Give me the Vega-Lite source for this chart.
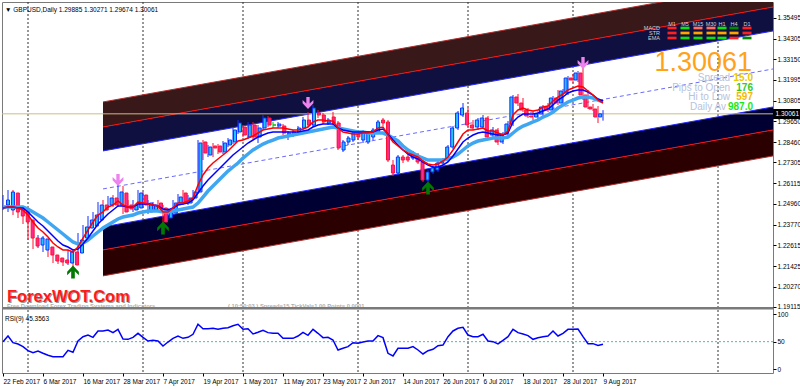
{
"$schema": "https://vega.github.io/schema/vega-lite/v6.json",
"background": "white",
"autosize": {"type": "none"},
"padding": {"left": 2, "top": 2, "right": 27, "bottom": 16},
"width": 771,
"height": 371,
"config": {"view": {"stroke": "#7a7a7a", "strokeWidth": 1}, "font": "Liberation Sans",
 "axis": {"labelFont": "Liberation Sans", "labelFontSize": 6.5, "labelColor": "#000000", "tickColor": "#000000", "tickSize": 3, "domain": false, "grid": false, "labelPadding": 1}},
"resolve": {"scale": {"x": "independent", "y": "independent", "color": "independent"}},
"datasets": {
"c": [
{"i":0,"o":1.24891,"h":1.25458,"l":1.24608,"c":1.25175,"r":1.24721,"b":1.24721,"s":1.24778,"rsi":50},
{"i":1,"o":1.24608,"h":1.25742,"l":1.24495,"c":1.25629,"r":1.24778,"b":1.24778,"s":1.24778,"rsi":60.2},
{"i":2,"o":1.25572,"h":1.25742,"l":1.24324,"c":1.24495,"r":1.24778,"b":1.24778,"s":1.24778,"rsi":48.1},
{"i":3,"o":1.24778,"h":1.24948,"l":1.24154,"c":1.24268,"r":1.24721,"b":1.24721,"s":1.24778,"rsi":45.8},
{"i":4,"o":1.24608,"h":1.24778,"l":1.23814,"c":1.23928,"r":1.24608,"b":1.24721,"s":1.24778,"rsi":41},
{"i":5,"o":1.24041,"h":1.24154,"l":1.22907,"c":1.2302,"r":1.24324,"b":1.24495,"s":1.24665,"rsi":33.7},
{"i":6,"o":1.2302,"h":1.23134,"l":1.22397,"c":1.22567,"r":1.23928,"b":1.24211,"s":1.24495,"rsi":30},
{"i":7,"o":1.22623,"h":1.2319,"l":1.22453,"c":1.2302,"r":1.23587,"b":1.23928,"s":1.24324,"rsi":33},
{"i":8,"o":1.2234,"h":1.23134,"l":1.22227,"c":1.22964,"r":1.23361,"b":1.23701,"s":1.24154,"rsi":29},
{"i":9,"o":1.2251,"h":1.22623,"l":1.21943,"c":1.22056,"r":1.23077,"b":1.23417,"s":1.23928,"rsi":25.3},
{"i":10,"o":1.22056,"h":1.22227,"l":1.21603,"c":1.21716,"r":1.22737,"b":1.23134,"s":1.23701,"rsi":22.8},
{"i":11,"o":1.21886,"h":1.22,"l":1.21546,"c":1.2166,"r":1.2251,"b":1.2285,"s":1.23474,"rsi":22.8},
{"i":12,"o":1.21773,"h":1.21886,"l":1.21433,"c":1.21603,"r":1.2234,"b":1.22623,"s":1.23247,"rsi":22.8},
{"i":13,"o":1.21603,"h":1.2234,"l":1.21489,"c":1.22227,"r":1.2234,"b":1.2251,"s":1.2302,"rsi":34.3},
{"i":14,"o":1.22227,"h":1.2234,"l":1.21319,"c":1.21489,"r":1.22227,"b":1.2234,"s":1.22794,"rsi":30.7},
{"i":15,"o":1.2217,"h":1.23304,"l":1.22056,"c":1.22907,"r":1.2251,"b":1.22397,"s":1.2268,"rsi":51.2},
{"i":16,"o":1.2302,"h":1.23757,"l":1.2285,"c":1.23644,"r":1.2302,"b":1.2268,"s":1.22737,"rsi":59},
{"i":17,"o":1.23587,"h":1.24268,"l":1.23361,"c":1.24041,"r":1.23474,"b":1.2302,"s":1.22907,"rsi":62},
{"i":18,"o":1.23701,"h":1.24495,"l":1.23587,"c":1.24324,"r":1.23928,"b":1.23417,"s":1.23134,"rsi":57.8},
{"i":19,"o":1.24041,"h":1.25062,"l":1.23928,"c":1.24891,"r":1.24324,"b":1.23814,"s":1.23361,"rsi":69.3},
{"i":20,"o":1.24891,"h":1.25175,"l":1.24381,"c":1.24608,"r":1.24495,"b":1.24098,"s":1.23587,"rsi":69.3},
{"i":21,"o":1.24891,"h":1.25402,"l":1.24721,"c":1.25288,"r":1.24778,"b":1.24381,"s":1.23757,"rsi":71.1},
{"i":22,"o":1.25288,"h":1.25458,"l":1.24778,"c":1.24891,"r":1.24891,"b":1.24608,"s":1.23928,"rsi":66.3},
{"i":23,"o":1.24891,"h":1.26025,"l":1.24778,"c":1.25629,"r":1.25118,"b":1.24835,"s":1.24098,"rsi":72.3},
{"i":24,"o":1.25572,"h":1.25969,"l":1.24381,"c":1.24495,"r":1.24891,"b":1.24835,"s":1.24211,"rsi":54.8},
{"i":25,"o":1.24891,"h":1.25175,"l":1.24495,"c":1.24665,"r":1.24778,"b":1.24778,"s":1.24268,"rsi":54.2},
{"i":26,"o":1.24608,"h":1.25175,"l":1.24495,"c":1.24891,"r":1.24778,"b":1.24778,"s":1.24324,"rsi":57.8},
{"i":27,"o":1.24721,"h":1.25742,"l":1.24608,"c":1.25572,"r":1.25062,"b":1.24948,"s":1.24438,"rsi":65.1},
{"i":28,"o":1.25458,"h":1.25629,"l":1.24721,"c":1.24891,"r":1.25005,"b":1.24948,"s":1.24495,"rsi":57.8},
{"i":29,"o":1.24495,"h":1.25175,"l":1.24381,"c":1.25005,"r":1.24948,"b":1.24948,"s":1.24551,"rsi":51.2},
{"i":30,"o":1.24608,"h":1.25062,"l":1.24495,"c":1.24891,"r":1.24891,"b":1.24891,"s":1.24551,"rsi":52.4},
{"i":31,"o":1.25005,"h":1.25175,"l":1.24551,"c":1.24665,"r":1.24835,"b":1.24835,"s":1.24551,"rsi":51.2},
{"i":32,"o":1.24721,"h":1.24891,"l":1.23757,"c":1.23928,"r":1.24495,"b":1.24665,"s":1.24495,"rsi":42.1},
{"i":33,"o":1.24154,"h":1.24721,"l":1.24041,"c":1.24495,"r":1.24495,"b":1.24608,"s":1.24495,"rsi":49.3},
{"i":34,"o":1.24438,"h":1.25175,"l":1.24324,"c":1.25005,"r":1.24721,"b":1.24721,"s":1.24551,"rsi":56},
{"i":35,"o":1.25005,"h":1.25515,"l":1.24891,"c":1.25345,"r":1.25005,"b":1.24891,"s":1.24608,"rsi":60.2},
{"i":36,"o":1.25572,"h":1.25742,"l":1.24891,"c":1.25005,"r":1.25005,"b":1.24948,"s":1.24665,"rsi":56},
{"i":37,"o":1.25005,"h":1.25458,"l":1.24891,"c":1.25288,"r":1.25118,"b":1.25005,"s":1.24721,"rsi":57.8},
{"i":38,"o":1.25288,"h":1.25742,"l":1.25175,"c":1.25629,"r":1.25288,"b":1.25175,"s":1.24778,"rsi":63.3},
{"i":39,"o":1.25629,"h":1.28577,"l":1.25515,"c":1.28407,"r":1.26025,"b":1.25572,"s":1.25005,"rsi":81.4},
{"i":40,"o":1.28464,"h":1.28577,"l":1.27443,"c":1.2784,"r":1.26592,"b":1.25969,"s":1.25345,"rsi":73.4},
{"i":41,"o":1.27726,"h":1.28293,"l":1.27613,"c":1.2818,"r":1.26989,"b":1.26309,"s":1.25685,"rsi":73.4},
{"i":42,"o":1.28237,"h":1.28407,"l":1.27613,"c":1.28123,"r":1.27273,"b":1.26592,"s":1.25969,"rsi":74.1},
{"i":43,"o":1.28237,"h":1.2835,"l":1.27783,"c":1.27897,"r":1.275,"b":1.26876,"s":1.26252,"rsi":72.3},
{"i":44,"o":1.27897,"h":1.2852,"l":1.27783,"c":1.28407,"r":1.27726,"b":1.27159,"s":1.26536,"rsi":74.1},
{"i":45,"o":1.28293,"h":1.2869,"l":1.2818,"c":1.28577,"r":1.27953,"b":1.27443,"s":1.26819,"rsi":75.3},
{"i":46,"o":1.28464,"h":1.29257,"l":1.2835,"c":1.29144,"r":1.28237,"b":1.27726,"s":1.27046,"rsi":78.8},
{"i":47,"o":1.29031,"h":1.29711,"l":1.28917,"c":1.29541,"r":1.2852,"b":1.27953,"s":1.27273,"rsi":81.4},
{"i":48,"o":1.29314,"h":1.29427,"l":1.28747,"c":1.2886,"r":1.28577,"b":1.2818,"s":1.27556,"rsi":72.3},
{"i":49,"o":1.28747,"h":1.29598,"l":1.28634,"c":1.29427,"r":1.2869,"b":1.28407,"s":1.27783,"rsi":73.4},
{"i":50,"o":1.29427,"h":1.29598,"l":1.28634,"c":1.28747,"r":1.28804,"b":1.28577,"s":1.2801,"rsi":63.9},
{"i":51,"o":1.28747,"h":1.29427,"l":1.28407,"c":1.29257,"r":1.28974,"b":1.28747,"s":1.2818,"rsi":66.9},
{"i":52,"o":1.29257,"h":1.29994,"l":1.29144,"c":1.29824,"r":1.29144,"b":1.2886,"s":1.2835,"rsi":70.5},
{"i":53,"o":1.29824,"h":1.29938,"l":1.29314,"c":1.29427,"r":1.29201,"b":1.28974,"s":1.28464,"rsi":66.3},
{"i":54,"o":1.29427,"h":1.29598,"l":1.29257,"c":1.29427,"r":1.29257,"b":1.29031,"s":1.28577,"rsi":65.1},
{"i":55,"o":1.29371,"h":1.29598,"l":1.29257,"c":1.29484,"r":1.29257,"b":1.29031,"s":1.2869,"rsi":65.1},
{"i":56,"o":1.29371,"h":1.29484,"l":1.2886,"c":1.28974,"r":1.29257,"b":1.29031,"s":1.28747,"rsi":56},
{"i":57,"o":1.2886,"h":1.29087,"l":1.28577,"c":1.28974,"r":1.29201,"b":1.29031,"s":1.28804,"rsi":56},
{"i":58,"o":1.2886,"h":1.29144,"l":1.28747,"c":1.29031,"r":1.29144,"b":1.29031,"s":1.2886,"rsi":56},
{"i":59,"o":1.28974,"h":1.29371,"l":1.2886,"c":1.29257,"r":1.29144,"b":1.29031,"s":1.28917,"rsi":60.2},
{"i":60,"o":1.29257,"h":1.29881,"l":1.29144,"c":1.29711,"r":1.29201,"b":1.29087,"s":1.28974,"rsi":66.9},
{"i":61,"o":1.29711,"h":1.30165,"l":1.29314,"c":1.29427,"r":1.29314,"b":1.29144,"s":1.29031,"rsi":61.5},
{"i":62,"o":1.29427,"h":1.30561,"l":1.29314,"c":1.30391,"r":1.29598,"b":1.29314,"s":1.29087,"rsi":72.3},
{"i":63,"o":1.30108,"h":1.30278,"l":1.29824,"c":1.29994,"r":1.29711,"b":1.29427,"s":1.29144,"rsi":65.1},
{"i":64,"o":1.29994,"h":1.30108,"l":1.29484,"c":1.29598,"r":1.29711,"b":1.29484,"s":1.29201,"rsi":57.2},
{"i":65,"o":1.29541,"h":1.29824,"l":1.29427,"c":1.29711,"r":1.29654,"b":1.29484,"s":1.29257,"rsi":57.8},
{"i":66,"o":1.29881,"h":1.30165,"l":1.29427,"c":1.29541,"r":1.29654,"b":1.29484,"s":1.29314,"rsi":53},
{"i":67,"o":1.29541,"h":1.29654,"l":1.2801,"c":1.28123,"r":1.29257,"b":1.29257,"s":1.29257,"rsi":34.9},
{"i":68,"o":1.2801,"h":1.28577,"l":1.27897,"c":1.28464,"r":1.29031,"b":1.29144,"s":1.29201,"rsi":38},
{"i":69,"o":1.28464,"h":1.28804,"l":1.28293,"c":1.2869,"r":1.28974,"b":1.29087,"s":1.29144,"rsi":41},
{"i":70,"o":1.28577,"h":1.29087,"l":1.28464,"c":1.28974,"r":1.28917,"b":1.29031,"s":1.29087,"rsi":48.1},
{"i":71,"o":1.28974,"h":1.29087,"l":1.28577,"c":1.28747,"r":1.28917,"b":1.29031,"s":1.29031,"rsi":47},
{"i":72,"o":1.28577,"h":1.29144,"l":1.28407,"c":1.29031,"r":1.28974,"b":1.29031,"s":1.29031,"rsi":49.3},
{"i":73,"o":1.28464,"h":1.29087,"l":1.2835,"c":1.28974,"r":1.28974,"b":1.29031,"s":1.28974,"rsi":51.2},
{"i":74,"o":1.28747,"h":1.29257,"l":1.28577,"c":1.29144,"r":1.29031,"b":1.29031,"s":1.28974,"rsi":51.2},
{"i":75,"o":1.29031,"h":1.29711,"l":1.28917,"c":1.29598,"r":1.29257,"b":1.29144,"s":1.28974,"rsi":60.8},
{"i":76,"o":1.29711,"h":1.29824,"l":1.29371,"c":1.29541,"r":1.29314,"b":1.29201,"s":1.28974,"rsi":57.2},
{"i":77,"o":1.29598,"h":1.29711,"l":1.2733,"c":1.27443,"r":1.2886,"b":1.28917,"s":1.2886,"rsi":28.9},
{"i":78,"o":1.27159,"h":1.27443,"l":1.26536,"c":1.26706,"r":1.28464,"b":1.28577,"s":1.2869,"rsi":24.1},
{"i":79,"o":1.26706,"h":1.27726,"l":1.26592,"c":1.27613,"r":1.28237,"b":1.28293,"s":1.2852,"rsi":38},
{"i":80,"o":1.27613,"h":1.27726,"l":1.27273,"c":1.27443,"r":1.2801,"b":1.2801,"s":1.28237,"rsi":38},
{"i":81,"o":1.27613,"h":1.2784,"l":1.2733,"c":1.27443,"r":1.2784,"b":1.27783,"s":1.2801,"rsi":38},
{"i":82,"o":1.27556,"h":1.27953,"l":1.27443,"c":1.2784,"r":1.27726,"b":1.27613,"s":1.2784,"rsi":41},
{"i":83,"o":1.27726,"h":1.2784,"l":1.27216,"c":1.2733,"r":1.27613,"b":1.275,"s":1.2767,"rsi":34.9},
{"i":84,"o":1.2733,"h":1.27443,"l":1.26196,"c":1.26309,"r":1.27386,"b":1.2733,"s":1.27556,"rsi":27.7},
{"i":85,"o":1.26309,"h":1.26876,"l":1.26196,"c":1.26763,"r":1.27216,"b":1.27159,"s":1.27443,"rsi":33.7},
{"i":86,"o":1.26763,"h":1.27103,"l":1.26649,"c":1.26989,"r":1.27159,"b":1.27046,"s":1.27443,"rsi":36.1},
{"i":87,"o":1.26876,"h":1.27386,"l":1.26763,"c":1.27273,"r":1.27216,"b":1.27046,"s":1.27443,"rsi":42.7},
{"i":88,"o":1.27273,"h":1.27556,"l":1.27159,"c":1.27443,"r":1.27386,"b":1.27159,"s":1.27443,"rsi":43.9},
{"i":89,"o":1.27443,"h":1.28293,"l":1.2733,"c":1.2818,"r":1.27613,"b":1.2733,"s":1.275,"rsi":59},
{"i":90,"o":1.2818,"h":1.29371,"l":1.28067,"c":1.29257,"r":1.2801,"b":1.2767,"s":1.27613,"rsi":69.3},
{"i":91,"o":1.29257,"h":1.30221,"l":1.29144,"c":1.30108,"r":1.28464,"b":1.28067,"s":1.27783,"rsi":74.1},
{"i":92,"o":1.29994,"h":1.30675,"l":1.29881,"c":1.30391,"r":1.28917,"b":1.28464,"s":1.2801,"rsi":75.9},
{"i":93,"o":1.30108,"h":1.30391,"l":1.29314,"c":1.29427,"r":1.29144,"b":1.2869,"s":1.28237,"rsi":62},
{"i":94,"o":1.29427,"h":1.29711,"l":1.29144,"c":1.29257,"r":1.29144,"b":1.2886,"s":1.28407,"rsi":59},
{"i":95,"o":1.29314,"h":1.29824,"l":1.29144,"c":1.29711,"r":1.29201,"b":1.28974,"s":1.2852,"rsi":59},
{"i":96,"o":1.29314,"h":1.29994,"l":1.29201,"c":1.29824,"r":1.29257,"b":1.29031,"s":1.28577,"rsi":63.3},
{"i":97,"o":1.29824,"h":1.29938,"l":1.28634,"c":1.28747,"r":1.29087,"b":1.28974,"s":1.28634,"rsi":51.2},
{"i":98,"o":1.2886,"h":1.29314,"l":1.28747,"c":1.29144,"r":1.29087,"b":1.28917,"s":1.2869,"rsi":50},
{"i":99,"o":1.29144,"h":1.29257,"l":1.28293,"c":1.28464,"r":1.28974,"b":1.2886,"s":1.2869,"rsi":45.8},
{"i":100,"o":1.28464,"h":1.29031,"l":1.2835,"c":1.28917,"r":1.2886,"b":1.2886,"s":1.2869,"rsi":52.4},
{"i":101,"o":1.28917,"h":1.29654,"l":1.28804,"c":1.29484,"r":1.29087,"b":1.28974,"s":1.28747,"rsi":59},
{"i":102,"o":1.29484,"h":1.31128,"l":1.29371,"c":1.31015,"r":1.29994,"b":1.29598,"s":1.28974,"rsi":72.3},
{"i":103,"o":1.31015,"h":1.31185,"l":1.30505,"c":1.30675,"r":1.30278,"b":1.29881,"s":1.29201,"rsi":66.3},
{"i":104,"o":1.30675,"h":1.30958,"l":1.30165,"c":1.30278,"r":1.30391,"b":1.30051,"s":1.29371,"rsi":63.9},
{"i":105,"o":1.30278,"h":1.30391,"l":1.29824,"c":1.29938,"r":1.30278,"b":1.30051,"s":1.29484,"rsi":61},
{"i":106,"o":1.29938,"h":1.30165,"l":1.29711,"c":1.29881,"r":1.30221,"b":1.30051,"s":1.29598,"rsi":54.2},
{"i":107,"o":1.29881,"h":1.30165,"l":1.29711,"c":1.30051,"r":1.30278,"b":1.30108,"s":1.29711,"rsi":57.2},
{"i":108,"o":1.30051,"h":1.30561,"l":1.29938,"c":1.30448,"r":1.30448,"b":1.30221,"s":1.29881,"rsi":59},
{"i":109,"o":1.30448,"h":1.30675,"l":1.30165,"c":1.30278,"r":1.30505,"b":1.30335,"s":1.29994,"rsi":60.2},
{"i":110,"o":1.30278,"h":1.31072,"l":1.30165,"c":1.30958,"r":1.30788,"b":1.30561,"s":1.30165,"rsi":69.3},
{"i":111,"o":1.30958,"h":1.31412,"l":1.30561,"c":1.30675,"r":1.31015,"b":1.30845,"s":1.30391,"rsi":60.2},
{"i":112,"o":1.30675,"h":1.31469,"l":1.30505,"c":1.31355,"r":1.31185,"b":1.31015,"s":1.30561,"rsi":65.1},
{"i":113,"o":1.31242,"h":1.32206,"l":1.31128,"c":1.32092,"r":1.31412,"b":1.31242,"s":1.30732,"rsi":72.3},
{"i":114,"o":1.32092,"h":1.32319,"l":1.31809,"c":1.31979,"r":1.31525,"b":1.31355,"s":1.30845,"rsi":72.3},
{"i":115,"o":1.31979,"h":1.32489,"l":1.31866,"c":1.32376,"r":1.31639,"b":1.31412,"s":1.30958,"rsi":72.9},
{"i":116,"o":1.32376,"h":1.32659,"l":1.30845,"c":1.31128,"r":1.31582,"b":1.31412,"s":1.31015,"rsi":59},
{"i":117,"o":1.31128,"h":1.31412,"l":1.30335,"c":1.30448,"r":1.31355,"b":1.31299,"s":1.31015,"rsi":46.4},
{"i":118,"o":1.30448,"h":1.30618,"l":1.30221,"c":1.30335,"r":1.31128,"b":1.31128,"s":1.30958,"rsi":46.4},
{"i":119,"o":1.30335,"h":1.30505,"l":1.29541,"c":1.29881,"r":1.30845,"b":1.30902,"s":1.30845,"rsi":43},
{"i":120,"o":1.29885,"h":1.30271,"l":1.29674,"c":1.30061,"r":1.30675,"b":1.30788,"s":1.30732,"rsi":45.4}
],
"grid": [{"g":5},{"g":28},{"g":48},{"g":71},{"g":93},{"g":114},{"g":143}],
"bands": [
{"band":"uMar","i":20,"lo":1.29317,"hi":1.30734},{"band":"uMar","i":154,"lo":1.36118,"hi":1.37535},
{"band":"uNavy","i":20,"lo":1.27957,"hi":1.29317},{"band":"uNavy","i":154,"lo":1.34758,"hi":1.36118},
{"band":"lNavy","i":20,"lo":1.22345,"hi":1.23649},{"band":"lNavy","i":154,"lo":1.29147,"hi":1.3045},
{"band":"lMar","i":20,"lo":1.20872,"hi":1.22345},{"band":"lMar","i":154,"lo":1.27673,"hi":1.29147}
],
"blines": [
{"ln":"uTop","i1":20,"i2":154,"p1":1.30734,"p2":1.37535},
{"ln":"uRed","i1":20,"i2":154,"p1":1.29317,"p2":1.36118},
{"ln":"uBot","i1":20,"i2":154,"p1":1.27957,"p2":1.34758},
{"ln":"lTop","i1":20,"i2":154,"p1":1.23649,"p2":1.3045},
{"ln":"lRed","i1":20,"i2":154,"p1":1.22345,"p2":1.29147},
{"ln":"lBot","i1":20,"i2":154,"p1":1.20872,"p2":1.27673}
],
"cline": [{"i1":20,"i2":154,"p1":1.25803,"p2":1.32604}],
"parr": [{"i":23,"p":1.26309},{"i":61,"p":1.30675},{"i":116,"p":1.32943}],
"garr": [{"i":14,"p":1.21093},{"i":32,"p":1.23587},{"i":85,"p":1.25855}],
"cells": [
{"tf":"M1","ind":"MACD","x":133.8,"y":1.34927,"s":"red"},
{"tf":"M5","ind":"MACD","x":136.4,"y":1.34927,"s":"green"},
{"tf":"M15","ind":"MACD","x":139.0,"y":1.34927,"s":"salmon"},
{"tf":"M30","ind":"MACD","x":141.6,"y":1.34927,"s":"salmon"},
{"tf":"H1","ind":"MACD","x":143.8,"y":1.34927,"s":"green"},
{"tf":"H4","ind":"MACD","x":146.2,"y":1.34927,"s":"dkgreen"},
{"tf":"D1","ind":"MACD","x":148.8,"y":1.34927,"s":"red"},
{"tf":"M1","ind":"STR","x":133.8,"y":1.34644,"s":"red"},
{"tf":"M5","ind":"STR","x":136.4,"y":1.34644,"s":"orange"},
{"tf":"M15","ind":"STR","x":139.0,"y":1.34644,"s":"orange"},
{"tf":"M30","ind":"STR","x":141.6,"y":1.34644,"s":"orange"},
{"tf":"H1","ind":"STR","x":143.8,"y":1.34644,"s":"orange"},
{"tf":"H4","ind":"STR","x":146.2,"y":1.34644,"s":"orange"},
{"tf":"D1","ind":"STR","x":148.8,"y":1.34644,"s":"red"},
{"tf":"M1","ind":"EMA","x":133.8,"y":1.3436,"s":"red"},
{"tf":"M5","ind":"EMA","x":136.4,"y":1.3436,"s":"green"},
{"tf":"M15","ind":"EMA","x":139.0,"y":1.3436,"s":"green"},
{"tf":"M30","ind":"EMA","x":141.6,"y":1.3436,"s":"green"},
{"tf":"H1","ind":"EMA","x":143.8,"y":1.3436,"s":"green"},
{"tf":"H4","ind":"EMA","x":146.2,"y":1.3436,"s":"red"},
{"tf":"D1","ind":"EMA","x":148.8,"y":1.3436,"s":"dkgreen"}
],
"txt": [
{"k":"hdr","x":0.4,"y":1.35948,"t":"▼ GBPUSD,Daily  1.29885 1.30271 1.29674 1.30061"},
{"k":"logo","x":0.8,"y":1.19703,"t":"ForexWOT.Com"},
{"k":"gray","x":0.8,"y":1.19137,"t":"Free Download Forex Trading Systems and Indicators"},
{"k":"gray","x":45.0,"y":1.19137,"t":"( 10:50:03 )  Spread=15  TickVal=1.00  Point= 0.0001"},
{"k":"big","x":149.8,"y":1.32971,"t":"1.30061"},
{"k":"lab","x":145.4,"y":1.32092,"t":"Spread"},
{"k":"lab","x":145.4,"y":1.31525,"t":"Pips to Open"},
{"k":"lab","x":145.4,"y":1.31015,"t":"Hi to Low"},
{"k":"lab","x":144.6,"y":1.30448,"t":"Daily Av"},
{"k":"v1","x":150.0,"y":1.32092,"t":"15.0"},
{"k":"v2","x":150.0,"y":1.31525,"t":"176"},
{"k":"v3","x":150.0,"y":1.31015,"t":"597"},
{"k":"v4","x":150.0,"y":1.30448,"t":"987.0"},
{"k":"th","x":133.8,"y":1.35154,"t":"M1"},
{"k":"th","x":136.4,"y":1.35154,"t":"M5"},
{"k":"th","x":139.0,"y":1.35154,"t":"M15"},
{"k":"th","x":141.6,"y":1.35154,"t":"M30"},
{"k":"th","x":143.8,"y":1.35154,"t":"H1"},
{"k":"th","x":146.2,"y":1.35154,"t":"H4"},
{"k":"th","x":148.8,"y":1.35154,"t":"D1"},
{"k":"tr","x":131.4,"y":1.34927,"t":"MACD"},
{"k":"tr","x":131.4,"y":1.34644,"t":"STR"},
{"k":"tr","x":131.4,"y":1.3436,"t":"EMA"},
{"k":"pbox","x":154.5,"y":1.30061,"t":"1.30061"}
]
},
"layer": [
{"data": {"name": "grid"}, "mark": {"type": "rule", "color": "#303030", "strokeDash": [2, 2], "strokeWidth": 1},
 "encoding": {"x": {"field": "g", "type": "quantitative", "scale": {"domain": [-0.2, 154], "nice": false, "zero": false}, "axis": null}}},
{"data": {"name": "bands"}, "mark": {"type": "area", "orient": "vertical", "clip": true, "opacity": 1},
 "encoding": {"x": {"field": "i", "type": "quantitative", "scale": {"domain": [-0.2, 154], "nice": false, "zero": false}, "axis": null},
  "y": {"field": "hi", "type": "quantitative", "scale": {"domain": [1.15366, 1.36402], "nice": false, "zero": false}, "axis": null},
  "y2": {"field": "lo"},
  "color": {"field": "band", "type": "nominal", "scale": {"domain": ["uMar", "uNavy", "lNavy", "lMar"], "range": ["#381818", "#101040", "#000033", "#2a0000"]}, "legend": null}}},
{"data": {"name": "blines"}, "mark": {"type": "rule", "clip": true, "strokeWidth": 1},
 "encoding": {"x": {"field": "i1", "type": "quantitative", "scale": {"domain": [-0.2, 154], "nice": false, "zero": false}, "axis": null},
  "x2": {"field": "i2"},
  "y": {"field": "p1", "type": "quantitative", "scale": {"domain": [1.15366, 1.36402], "nice": false, "zero": false}, "axis": null},
  "y2": {"field": "p2"},
  "color": {"field": "ln", "type": "nominal", "scale": {"domain": ["uTop", "uRed", "uBot", "lTop", "lRed", "lBot"], "range": ["#b03030", "#ff1010", "#2828ff", "#2828ff", "#ff1010", "#b03030"]}, "legend": null}}},
{"data": {"name": "cline"}, "mark": {"type": "rule", "clip": true, "strokeWidth": 1, "color": "#6a6aff", "strokeDash": [4, 3]},
 "encoding": {"x": {"field": "i1", "type": "quantitative", "scale": {"domain": [-0.2, 154], "nice": false, "zero": false}, "axis": null},
  "x2": {"field": "i2"},
  "y": {"field": "p1", "type": "quantitative", "scale": {"domain": [1.15366, 1.36402], "nice": false, "zero": false}, "axis": null},
  "y2": {"field": "p2"}}},
{"data": {"values": [{"p": 1.30061}]}, "mark": {"type": "rule", "color": "#c8be82", "strokeWidth": 1},
 "encoding": {"y": {"field": "p", "type": "quantitative", "scale": {"domain": [1.15366, 1.36402], "nice": false, "zero": false}, "axis": null}}},
{"data": {"name": "c"}, "mark": {"type": "rule", "strokeWidth": 1, "clip": true},
 "encoding": {"x": {"field": "i", "type": "quantitative", "scale": {"domain": [-0.2, 154], "nice": false, "zero": false}, "axis": null},
  "y": {"field": "l", "type": "quantitative", "scale": {"domain": [1.15366, 1.36402], "nice": false, "zero": false},
   "axis": {"orient": "right", "title": null, "values": [1.15576, 1.17144, 1.18711, 1.19115, 1.2027, 1.21425, 1.22615, 1.2377, 1.2496, 1.26115, 1.27305, 1.2846, 1.2965, 1.30805, 1.31995, 1.3315, 1.34305, 1.35495],
    "labelExpr": "datum.value > 1.19 ? format(datum.value, '.5f') : (datum.value > 1.18 ? '100' : (datum.value > 1.165 ? '50' : '0'))", "labelFlush": false, "labelOverlap": false, "labelBound": false}},
  "y2": {"field": "h"},
  "color": {"condition": [{"test": "datum.c > datum.o", "value": "#1030ff"}, {"test": "datum.c == datum.o", "value": "#00c000"}], "value": "#ff1030"}}},
{"data": {"name": "c"}, "mark": {"type": "bar", "width": 3, "strokeWidth": 1, "clip": true},
 "encoding": {"x": {"field": "i", "type": "quantitative", "scale": {"domain": [-0.2, 154], "nice": false, "zero": false}, "axis": null},
  "y": {"field": "o", "type": "quantitative", "scale": {"domain": [1.15366, 1.36402], "nice": false, "zero": false}, "axis": null},
  "y2": {"field": "c"},
  "fill": {"condition": [{"test": "datum.c > datum.o", "value": "#20c4ff"}, {"test": "datum.c == datum.o", "value": "#00d000"}], "value": "#ff2a8c"},
  "stroke": {"condition": [{"test": "datum.c > datum.o", "value": "#1030ff"}, {"test": "datum.c == datum.o", "value": "#00c000"}], "value": "#ff1030"}}},
{"data": {"name": "c"}, "mark": {"type": "line", "color": "#3fa6f2", "strokeWidth": 3.5, "clip": true},
 "encoding": {"x": {"field": "i", "type": "quantitative", "scale": {"domain": [-0.2, 154], "nice": false, "zero": false}, "axis": null},
  "y": {"field": "s", "type": "quantitative", "scale": {"domain": [1.15366, 1.36402], "nice": false, "zero": false}, "axis": null}}},
{"data": {"name": "c"}, "mark": {"type": "line", "color": "#0000ff", "strokeWidth": 1.5, "clip": true},
 "encoding": {"x": {"field": "i", "type": "quantitative", "scale": {"domain": [-0.2, 154], "nice": false, "zero": false}, "axis": null},
  "y": {"field": "b", "type": "quantitative", "scale": {"domain": [1.15366, 1.36402], "nice": false, "zero": false}, "axis": null}}},
{"data": {"name": "c"}, "mark": {"type": "line", "color": "#ff0000", "strokeWidth": 1.5, "clip": true},
 "encoding": {"x": {"field": "i", "type": "quantitative", "scale": {"domain": [-0.2, 154], "nice": false, "zero": false}, "axis": null},
  "y": {"field": "r", "type": "quantitative", "scale": {"domain": [1.15366, 1.36402], "nice": false, "zero": false}, "axis": null}}},
{"data": {"name": "parr"}, "mark": {"type": "point", "shape": "M0,1L0.9,0.05L0.9,-0.5L0.28,0.1L0.28,-1L-0.28,-1L-0.28,0.1L-0.9,-0.5L-0.9,0.05Z", "filled": true, "size": 144, "color": "#ee82ee", "opacity": 1},
 "encoding": {"x": {"field": "i", "type": "quantitative", "scale": {"domain": [-0.2, 154], "nice": false, "zero": false}, "axis": null},
  "y": {"field": "p", "type": "quantitative", "scale": {"domain": [1.15366, 1.36402], "nice": false, "zero": false}, "axis": null}}},
{"data": {"name": "garr"}, "mark": {"type": "point", "shape": "M0,-1L0.9,-0.05L0.9,0.5L0.28,-0.1L0.28,1L-0.28,1L-0.28,-0.1L-0.9,0.5L-0.9,-0.05Z", "filled": true, "size": 169, "color": "#007a00", "opacity": 1},
 "encoding": {"x": {"field": "i", "type": "quantitative", "scale": {"domain": [-0.2, 154], "nice": false, "zero": false}, "axis": null},
  "y": {"field": "p", "type": "quantitative", "scale": {"domain": [1.15366, 1.36402], "nice": false, "zero": false}, "axis": null}}},
{"data": {"name": "cells"}, "mark": {"type": "point", "shape": "M-1,-0.3L1,-0.3L1,0.3L-1,0.3Z", "filled": true, "size": 81, "opacity": 1},
 "encoding": {"x": {"field": "x", "type": "quantitative", "scale": {"domain": [-0.2, 154], "nice": false, "zero": false}, "axis": null},
  "y": {"field": "y", "type": "quantitative", "scale": {"domain": [1.15366, 1.36402], "nice": false, "zero": false}, "axis": null},
  "color": {"field": "s", "type": "nominal", "scale": {"domain": ["red", "green", "salmon", "orange", "dkgreen"], "range": ["#ff2020", "#10e010", "#ff7060", "#ffa500", "#008800"]}, "legend": null}}},
{"data": {"name": "txt"}, "transform": [{"filter": "datum.k == 'hdr'"}], "mark": {"type": "text", "align": "left", "fontSize": 6.5, "color": "#000000"},
 "encoding": {"x": {"field": "x", "type": "quantitative", "scale": {"domain": [-0.2, 154], "nice": false, "zero": false}, "axis": null},
  "y": {"field": "y", "type": "quantitative", "scale": {"domain": [1.15366, 1.36402], "nice": false, "zero": false}, "axis": null},
  "text": {"field": "t"}}},
{"data": {"name": "txt"}, "transform": [{"filter": "datum.k == 'logo'"}], "mark": {"type": "text", "align": "left", "fontSize": 16.5, "fontWeight": "bold", "color": "#9a9a9a", "dx": 1, "dy": 1},
 "encoding": {"x": {"field": "x", "type": "quantitative", "scale": {"domain": [-0.2, 154], "nice": false, "zero": false}, "axis": null},
  "y": {"field": "y", "type": "quantitative", "scale": {"domain": [1.15366, 1.36402], "nice": false, "zero": false}, "axis": null},
  "text": {"field": "t"}}},
{"data": {"name": "txt"}, "transform": [{"filter": "datum.k == 'logo'"}], "mark": {"type": "text", "align": "left", "fontSize": 16.5, "fontWeight": "bold", "color": "#ff1a1a"},
 "encoding": {"x": {"field": "x", "type": "quantitative", "scale": {"domain": [-0.2, 154], "nice": false, "zero": false}, "axis": null},
  "y": {"field": "y", "type": "quantitative", "scale": {"domain": [1.15366, 1.36402], "nice": false, "zero": false}, "axis": null},
  "text": {"field": "t"}}},
{"data": {"name": "txt"}, "transform": [{"filter": "datum.k == 'gray'"}], "mark": {"type": "text", "align": "left", "fontSize": 5.8, "fontWeight": "bold", "color": "#b0b0b0"},
 "encoding": {"x": {"field": "x", "type": "quantitative", "scale": {"domain": [-0.2, 154], "nice": false, "zero": false}, "axis": null},
  "y": {"field": "y", "type": "quantitative", "scale": {"domain": [1.15366, 1.36402], "nice": false, "zero": false}, "axis": null},
  "text": {"field": "t"}}},
{"data": {"name": "txt"}, "transform": [{"filter": "datum.k == 'big'"}], "mark": {"type": "text", "align": "right", "fontSize": 27, "color": "#ffa21a"},
 "encoding": {"x": {"field": "x", "type": "quantitative", "scale": {"domain": [-0.2, 154], "nice": false, "zero": false}, "axis": null},
  "y": {"field": "y", "type": "quantitative", "scale": {"domain": [1.15366, 1.36402], "nice": false, "zero": false}, "axis": null},
  "text": {"field": "t"}}},
{"data": {"name": "txt"}, "transform": [{"filter": "datum.k == 'lab'"}], "mark": {"type": "text", "align": "right", "fontSize": 10, "color": "#b8c2dc"},
 "encoding": {"x": {"field": "x", "type": "quantitative", "scale": {"domain": [-0.2, 154], "nice": false, "zero": false}, "axis": null},
  "y": {"field": "y", "type": "quantitative", "scale": {"domain": [1.15366, 1.36402], "nice": false, "zero": false}, "axis": null},
  "text": {"field": "t"}}},
{"data": {"name": "txt"}, "transform": [{"filter": "datum.k == 'v1' || datum.k == 'v2' || datum.k == 'v3' || datum.k == 'v4'"}], "mark": {"type": "text", "align": "right", "fontSize": 10, "fontWeight": "bold"},
 "encoding": {"x": {"field": "x", "type": "quantitative", "scale": {"domain": [-0.2, 154], "nice": false, "zero": false}, "axis": null},
  "y": {"field": "y", "type": "quantitative", "scale": {"domain": [1.15366, 1.36402], "nice": false, "zero": false}, "axis": null},
  "text": {"field": "t"},
  "color": {"field": "k", "type": "nominal", "scale": {"domain": ["v1", "v2", "v3", "v4"], "range": ["#e8c800", "#2ecc2e", "#f5b800", "#18e818"]}, "legend": null}}},
{"data": {"name": "txt"}, "transform": [{"filter": "datum.k == 'th'"}], "mark": {"type": "text", "align": "center", "fontSize": 5.5, "color": "#d0d0d0"},
 "encoding": {"x": {"field": "x", "type": "quantitative", "scale": {"domain": [-0.2, 154], "nice": false, "zero": false}, "axis": null},
  "y": {"field": "y", "type": "quantitative", "scale": {"domain": [1.15366, 1.36402], "nice": false, "zero": false}, "axis": null},
  "text": {"field": "t"}}},
{"data": {"name": "txt"}, "transform": [{"filter": "datum.k == 'tr'"}], "mark": {"type": "text", "align": "right", "baseline": "middle", "fontSize": 5.5, "color": "#d0d0d0"},
 "encoding": {"x": {"field": "x", "type": "quantitative", "scale": {"domain": [-0.2, 154], "nice": false, "zero": false}, "axis": null},
  "y": {"field": "y", "type": "quantitative", "scale": {"domain": [1.15366, 1.36402], "nice": false, "zero": false}, "axis": null},
  "text": {"field": "t"}}},
{"data": {"values": [{"x1": 154, "x2": 159.4, "y1": 1.30335, "y2": 1.29767}]}, "mark": {"type": "rect", "color": "#000000"},
 "encoding": {"x": {"field": "x1", "type": "quantitative", "scale": {"domain": [-0.2, 154], "nice": false, "zero": false}, "axis": null},
  "x2": {"field": "x2"},
  "y": {"field": "y1", "type": "quantitative", "scale": {"domain": [1.15366, 1.36402], "nice": false, "zero": false}, "axis": null},
  "y2": {"field": "y2"}}},
{"data": {"name": "txt"}, "transform": [{"filter": "datum.k == 'pbox'"}], "mark": {"type": "text", "align": "left", "baseline": "middle", "fontSize": 6.5, "color": "#ffffff"},
 "encoding": {"x": {"field": "x", "type": "quantitative", "scale": {"domain": [-0.2, 154], "nice": false, "zero": false}, "axis": null},
  "y": {"field": "y", "type": "quantitative", "scale": {"domain": [1.15366, 1.36402], "nice": false, "zero": false}, "axis": null},
  "text": {"field": "t"}}},
{"data": {"values": [{"v": 50}]}, "mark": {"type": "rule", "color": "#3cc0c0", "strokeDash": [2, 2], "strokeWidth": 1},
 "encoding": {"y": {"field": "v", "type": "quantitative", "scale": {"domain": [-6.7, 664.2], "nice": false, "zero": false}, "axis": null}}},
{"data": {"values": [{"y1": 1.19108, "y2": 1.18966}]}, "mark": {"type": "rect", "color": "#7a7a7a"},
 "encoding": {"y": {"field": "y1", "type": "quantitative", "scale": {"domain": [1.15366, 1.36402], "nice": false, "zero": false}, "axis": null},
  "y2": {"field": "y2"}}},
{"data": {"name": "c"}, "mark": {"type": "line", "color": "#0000ff", "strokeWidth": 1.5},
 "encoding": {"x": {"field": "i", "type": "quantitative", "scale": {"domain": [-0.2, 154], "nice": false, "zero": false},
   "axis": {"orient": "bottom", "title": null, "values": [0, 8, 16, 24, 32, 40, 48, 56, 64, 72, 80, 88, 96, 104, 112, 120], "labelExpr": "['22 Feb 2017','6 Mar 2017','16 Mar 2017','28 Mar 2017','7 Apr 2017','19 Apr 2017','1 May 2017','11 May 2017','23 May 2017','2 Jun 2017','14 Jun 2017','26 Jun 2017','6 Jul 2017','18 Jul 2017','28 Jul 2017','9 Aug 2017'][round(datum.value/8)]", "labelAlign": "left", "labelFlush": false, "labelOverlap": false, "labelBound": false, "labelPadding": 2}},
  "y": {"field": "rsi", "type": "quantitative", "scale": {"domain": [-6.7, 664.2], "nice": false, "zero": false}, "axis": null}}},
{"data": {"values": [{"x": 0.4, "y": 91, "t": "RSI(9) 45.3563"}]}, "mark": {"type": "text", "align": "left", "fontSize": 6.5, "color": "#000000"},
 "encoding": {"x": {"field": "x", "type": "quantitative", "scale": {"domain": [-0.2, 154], "nice": false, "zero": false}, "axis": null},
  "y": {"field": "y", "type": "quantitative", "scale": {"domain": [-6.7, 664.2], "nice": false, "zero": false}, "axis": null},
  "text": {"field": "t"}}}
]
}
